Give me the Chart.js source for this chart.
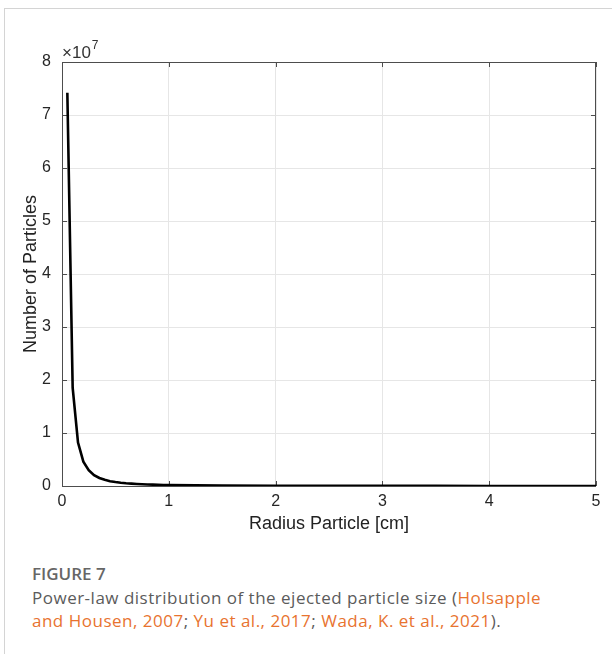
<!DOCTYPE html>
<html lang="en">
<head>
    <meta charset="UTF-8">
    <title>Figure 7</title>
    <script src="https://cdn.jsdelivr.net/npm/chart.js@4.4.0/dist/chart.umd.min.js"></script>
    <style>
        body { margin: 0; background: #fff; }
        #cadre {
            position: absolute; left: 4px; top: 8px; width: 608px; height: 646px;
            border-top: 1px solid #d4d4d4; border-left: 1px solid #d4d4d4;
        }
        #graphe { position: absolute; left: 0; top: 0; }
        #legende {
            position: absolute; left: 32px; top: 562px; width: 540px;
            font-family: "Open Sans", sans-serif; color: #5b5b5b; font-size: 17px; line-height: 23.5px;
            letter-spacing: 0.5px;
        }
        #legende .titre { font-weight: 600; color: #666; font-size: 17px; letter-spacing: 0; }
        #legende .lien { color: #e8732f; }
    </style>
</head>
<body>
<div id="cadre"></div>
<canvas id="graphe" width="612" height="545"></canvas>
<div id="legende">
    <div class="titre">FIGURE 7</div>
    Power-law distribution of the ejected particle size (<span class="lien">Holsapple and Housen, 2007</span>; <span class="lien">Yu et al., 2017</span>; <span class="lien">Wada, K. et al., 2021</span>).
</div>

<script>
    // rayon des particules [cm]
    let rayons = [0.05, 0.10, 0.15, 0.20, 0.25, 0.30, 0.35, 0.40, 0.45, 0.50,
        0.55, 0.60, 0.65, 0.70, 0.75, 0.80, 0.85, 0.90, 0.95, 1.00,
        1.5, 2.0, 2.5, 3.0, 3.5, 4.0, 4.5, 5.0];
    // nombre de particules, en unites de 10^7
    let nombreParticules = [7.42, 1.85, 0.82, 0.46, 0.30, 0.205, 0.151, 0.116, 0.091, 0.074,
        0.061, 0.051, 0.044, 0.038, 0.033, 0.029, 0.026, 0.023, 0.020, 0.0185,
        0.0082, 0.0046, 0.003, 0.002, 0.0015, 0.0012, 0.0009, 0.0007];
    let ticksX = [0, 1, 2, 3, 4, 5];
    let ticksY = [0, 1, 2, 3, 4, 5, 6, 7, 8];

    let couleurAxe = '#4d4d4d';
    let policeAxe = 'Liberation Sans, Arial, sans-serif';

    // cadre style matlab : boite + petites graduations vers l'interieur
    let cadreMatlab = {
        id: 'cadreMatlab',
        beforeDatasetsDraw(chart) {
            let ctx = chart.ctx;
            let a = chart.chartArea;
            let sx = chart.scales.x, sy = chart.scales.y;
            ctx.save();
            ctx.strokeStyle = couleurAxe;
            ctx.lineWidth = 1;
            ctx.strokeRect(a.left + 0.5, a.top + 0.5, a.right - a.left - 1, a.bottom - a.top);
            ctx.beginPath();
            ticksX.forEach(v => {
                let px = Math.round(sx.getPixelForValue(v)) + 0.5;
                ctx.moveTo(px, a.bottom); ctx.lineTo(px, a.bottom - 5);
                ctx.moveTo(px, a.top); ctx.lineTo(px, a.top + 5);
            });
            ticksY.forEach(v => {
                let py = Math.round(sy.getPixelForValue(v)) + 0.5;
                ctx.moveTo(a.left, py); ctx.lineTo(a.left + 5, py);
                ctx.moveTo(a.right, py); ctx.lineTo(a.right - 5, py);
            });
            ctx.stroke();
            ctx.restore();
        },
        afterDraw(chart) {
            let ctx = chart.ctx;
            let a = chart.chartArea;
            ctx.save();
            ctx.fillStyle = '#333';
            ctx.textBaseline = 'alphabetic';
            ctx.font = '17px ' + policeAxe;
            ctx.fillText('\u00d710', a.left, a.top - 4);
            let w = ctx.measureText('\u00d710').width;
            ctx.font = '12px ' + policeAxe;
            ctx.fillText('7', a.left + w + 1, a.top - 13);
            ctx.restore();
        }
    };

    let points = rayons.map((r, i) => ({x: r, y: nombreParticules[i]}));

    new Chart(document.querySelector('#graphe').getContext('2d'), {
        type: 'line',
        data: {
            datasets: [{
                data: points,
                borderColor: '#000',
                borderWidth: 2.6,
                pointRadius: 0,
                tension: 0,
                fill: false
            }]
        },
        options: {
            responsive: false,
            animation: false,
            layout: {padding: {left: 20, right: 16, top: 62, bottom: 10}},
            plugins: {legend: {display: false}, tooltip: {enabled: false}},
            scales: {
                x: {
                    type: 'linear', min: 0, max: 5,
                    afterBuildTicks: s => { s.ticks = ticksX.map(v => ({value: v})); },
                    afterFit: s => { s.height = 49; },
                    grid: {color: '#e6e6e6', drawTicks: false},
                    border: {display: false},
                    ticks: {color: '#262626', padding: 6, font: {family: policeAxe, size: 16}},
                    title: {display: true, text: 'Radius Particle [cm]', color: '#222', padding: 0,
                        font: {family: policeAxe, size: 18}}
                },
                y: {
                    type: 'linear', min: 0, max: 8,
                    afterBuildTicks: s => { s.ticks = ticksY.map(v => ({value: v})); },
                    afterFit: s => { s.width = 42; },
                    grid: {color: '#e6e6e6', drawTicks: false},
                    border: {display: false},
                    ticks: {color: '#262626', padding: 11, font: {family: policeAxe, size: 16}},
                    title: {display: true, text: 'Number of Particles', color: '#222', padding: 0,
                        font: {family: policeAxe, size: 18}}
                }
            }
        },
        plugins: [cadreMatlab]
    });
</script>
</body>
</html>
